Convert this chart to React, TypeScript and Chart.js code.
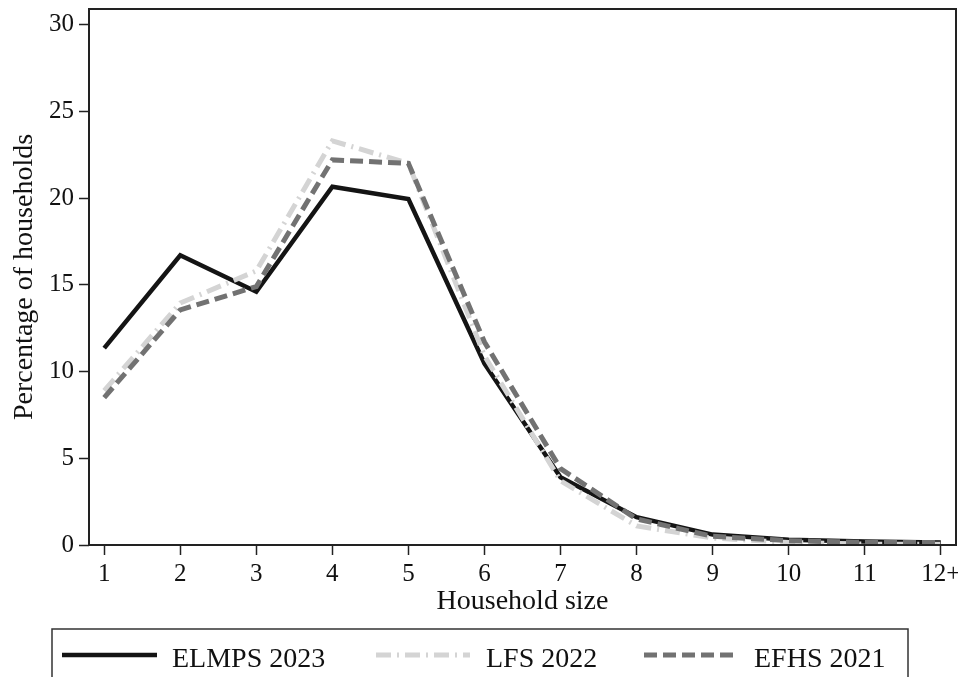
import React, { useEffect, useRef } from "react";
import { Chart, registerables } from "chart.js";

Chart.register(...registerables);

const householdSizes = [1, 2, 3, 4, 5, 6, 7, 8, 9, 10, 11, 12];
const sizeLabels = ["1", "2", "3", "4", "5", "6", "7", "8", "9", "10", "11", "12+"];
const yTickValues = [0, 5, 10, 15, 20, 25, 30];

const elmps2023 = [11.35, 16.7, 14.6, 20.65, 19.95, 10.45, 3.9, 1.6, 0.6, 0.3, 0.2, 0.15];
const lfs2022 = [8.9, 13.95, 15.8, 23.3, 22.0, 10.9, 3.7, 1.1, 0.4, 0.15, 0.05, 0.05];
const efhs2021 = [8.5, 13.55, 14.9, 22.2, 22.0, 11.7, 4.4, 1.5, 0.5, 0.25, 0.15, 0.15];

const seriesNames = ["ELMPS 2023", "LFS 2022", "EFHS 2021"];

const FONT = "'Liberation Serif', 'Times New Roman', Times, serif";

const toPoints = (vals: number[]) => householdSizes.map((x, i) => ({ x, y: vals[i] }));

const framePlugin = {
  id: "frameAndLegend",
  afterDraw(chart: any) {
    const { ctx, chartArea } = chart;
    ctx.save();
    // plot frame
    ctx.strokeStyle = "#222";
    ctx.lineWidth = 2;
    ctx.setLineDash([]);
    ctx.strokeRect(chartArea.left, chartArea.top, chartArea.right - chartArea.left, chartArea.bottom - chartArea.top);

    // legend box
    ctx.lineWidth = 1.5;
    ctx.strokeStyle = "#333";
    ctx.strokeRect(52, 629, 856, 80);

    const lineSpans = [
      [62, 157],
      [376, 470],
      [644, 739],
    ];
    const textX = [172, 486, 754];
    const ly = 655;
    chart.data.datasets.forEach((ds: any, i: number) => {
      ctx.beginPath();
      ctx.strokeStyle = ds.borderColor;
      ctx.lineWidth = ds.borderWidth;
      ctx.setLineDash(ds.borderDash || []);
      ctx.lineCap = "butt";
      ctx.moveTo(lineSpans[i][0], ly);
      ctx.lineTo(lineSpans[i][1], ly);
      ctx.stroke();
      ctx.setLineDash([]);
      ctx.fillStyle = "#111";
      ctx.font = `28px ${FONT}`;
      ctx.textBaseline = "alphabetic";
      ctx.textAlign = "left";
      ctx.fillText(ds.label, textX[i], 667);
    });
    ctx.restore();
  },
};

export default function App() {
  const canvasRef = useRef<HTMLCanvasElement | null>(null);

  useEffect(() => {
    if (!canvasRef.current) return;
    const chart = new Chart(canvasRef.current, {
      type: "line",
      data: {
        datasets: [
          {
            label: seriesNames[0],
            data: toPoints(elmps2023),
            borderColor: "#141414",
            borderWidth: 4.5,
            pointRadius: 0,
            tension: 0,
            order: 3,
          },
          {
            label: seriesNames[1],
            data: toPoints(lfs2022),
            borderColor: "#d4d4d4",
            borderWidth: 5,
            borderDash: [15, 6, 2, 6],
            pointRadius: 0,
            tension: 0,
            order: 2,
          },
          {
            label: seriesNames[2],
            data: toPoints(efhs2021),
            borderColor: "#727272",
            borderWidth: 5,
            borderDash: [13, 6],
            pointRadius: 0,
            tension: 0,
            order: 1,
          },
        ],
      },
      options: {
        animation: false,
        responsive: false,
        devicePixelRatio: 1,
        layout: { padding: { top: 9, right: 2, left: 0, bottom: 57 } },
        plugins: {
          legend: { display: false },
          tooltip: { enabled: false },
        },
        scales: {
          x: {
            type: "linear",
            min: 0.8,
            max: 12.2,
            afterBuildTicks: (scale: any) => {
              scale.ticks = householdSizes.map((v) => ({ value: v }));
            },
            afterFit: (scale: any) => {
              scale.height = 75;
              scale.paddingLeft = 0;
              scale.paddingRight = 0;
            },
            ticks: {
              callback: (v: any) => sizeLabels[householdSizes.indexOf(Number(v))] ?? "",
              font: { family: FONT, size: 25 },
              color: "#111",
              padding: 4,
              maxRotation: 0,
              autoSkip: false,
            },
            grid: {
              drawOnChartArea: false,
              drawTicks: true,
              tickLength: 10,
              tickColor: "#222",
              tickWidth: 1.5,
            },
            border: { display: false },
            title: {
              display: true,
              text: "Household size",
              font: { family: FONT, size: 28 },
              color: "#111",
              padding: { top: 0, bottom: 2 },
            },
          },
          y: {
            min: 0,
            max: 30.9,
            afterBuildTicks: (scale: any) => {
              scale.ticks = yTickValues.map((v) => ({ value: v }));
            },
            afterFit: (scale: any) => {
              scale.width = 89;
              scale.paddingTop = 0;
              scale.paddingBottom = 0;
            },
            ticks: {
              font: { family: FONT, size: 25 },
              color: "#111",
              padding: 5,
            },
            grid: {
              drawOnChartArea: false,
              drawTicks: true,
              tickLength: 10,
              tickColor: "#222",
              tickWidth: 1.5,
            },
            border: { display: false },
            title: {
              display: true,
              text: "Percentage of households",
              font: { family: FONT, size: 28 },
              color: "#111",
              padding: { top: 8, bottom: 0 },
            },
          },
        },
      },
      plugins: [framePlugin],
    });
    return () => chart.destroy();
  }, []);

  return (
    <div style={{ position: "absolute", left: 0, top: 0, width: 958, height: 677, background: "#fff" }}>
      <canvas ref={canvasRef} width={958} height={677} style={{ display: "block" }} />
    </div>
  );
}
